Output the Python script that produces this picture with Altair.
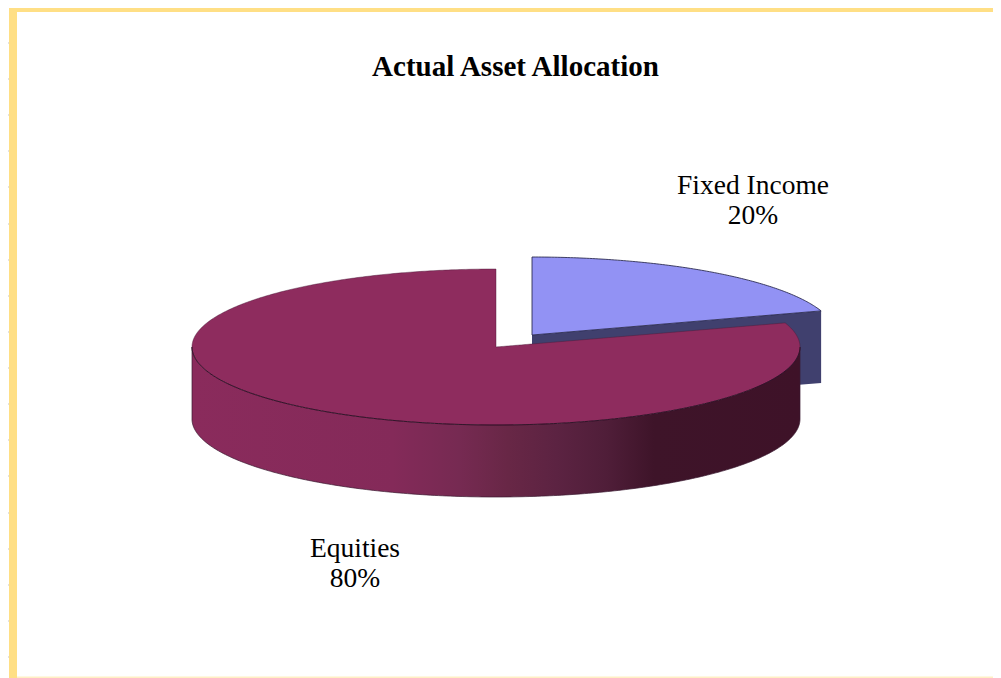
import numpy as np
import pandas as pd
import altair as alt

title_text = "Actual Asset Allocation"
categories = ["Equities", "Fixed Income"]
shares = [80, 20]
share_labels = ["80%", "20%"]
left_marks = [43, 79, 115, 151, 187, 224, 260, 296, 332, 368, 404, 440, 476, 513, 549, 585, 621, 657]

W, H = 985, 670
X = alt.X("x:Q", scale=alt.Scale(domain=[8, 8 + W], nice=False, zero=False), axis=None)
Y = alt.Y("y:Q", scale=alt.Scale(domain=[8 + H, 8], nice=False, zero=False), axis=None)
X2, Y2 = alt.X2("x2:Q"), alt.Y2("y2:Q")

RX, RY, DEPTH = 304.0, 78.0, 72.0
EQ_C = (496.0, 347.0)
FI_C = (532.0, 335.0)
cut = 2 * np.pi * shares[1] / sum(shares)      # clockwise angle from 12 o'clock


def pt(c, a):
    return c[0] + RX * np.sin(a), c[1] - RY * np.cos(a)


def area_df(xs, top, bot):
    return pd.DataFrame({"x": xs, "y": top, "y2": bot})


def line_df(xs, ys):
    return pd.DataFrame({"x": xs, "y": ys, "i": np.arange(len(xs))})


def area(df, fill):
    return alt.Chart(df).mark_area(color=fill).encode(x=X, y=Y, y2=Y2)


def line(df, color, width=1.0, opacity=1.0):
    return alt.Chart(df).mark_line(color=color, strokeWidth=width, opacity=opacity).encode(
        x=X, y=Y, order=alt.Order("i:Q"))


# Fixed income: cut wall and top face
ex, ey = pt(FI_C, cut)
wall_x = np.array([FI_C[0], ex])
wall_top = np.array([FI_C[1], ey])
fi_wall = area(area_df(wall_x, wall_top, wall_top + DEPTH), "#40406E")
a = np.linspace(0, cut, 120)
fx, fy = pt(FI_C, a)
fi_low = FI_C[1] + (fx - FI_C[0]) * (ey - FI_C[1]) / (ex - FI_C[0])
fi_top = area(area_df(fx, fy, fi_low), "#9292F4")
fi_out = line(line_df(np.r_[FI_C[0], fx, FI_C[0]], np.r_[FI_C[1], fy, FI_C[1]]), "#26264A", 1.0, 0.85)

# Equities: side wall with the shading from left to right
a = np.linspace(-np.pi / 2, -3 * np.pi / 2, 240)
wx, wy = pt(EQ_C, a)
shade = alt.LinearGradient(
    gradient="linear", x1=0, x2=1, y1=0, y2=0,
    stops=[
        alt.GradientStop(offset=0.0, color="#8A2B5C"),
        alt.GradientStop(offset=0.33, color="#842A59"),
        alt.GradientStop(offset=0.44, color="#762A52"),
        alt.GradientStop(offset=0.52, color="#682746"),
        alt.GradientStop(offset=0.60, color="#5C2342"),
        alt.GradientStop(offset=0.68, color="#501E39"),
        alt.GradientStop(offset=0.76, color="#3E1429"),
        alt.GradientStop(offset=1.0, color="#3E1228"),
    ],
)
eq_wall = area(area_df(wx[::-1], wy[::-1], wy[::-1] + DEPTH), shade)
eq_front = line(line_df(wx, wy), "#2A1024", 1.0, 0.9)
eq_base = line(line_df(np.r_[wx[0], wx, wx[-1]], np.r_[wy[0], wy + DEPTH, wy[-1]]), "#3A1A30", 1.0, 0.7)

# Equities: top face (everything except the fixed income wedge)
a_left = np.linspace(-np.pi / 2, 0, 160)
lx, ly = pt(EQ_C, a_left)
qx, qy = pt(EQ_C, cut)
mx = np.linspace(EQ_C[0] + 0.01, qx, 160)
my = EQ_C[1] + (mx - EQ_C[0]) * (qy - EQ_C[1]) / (qx - EQ_C[0])
a_gap = np.linspace(cut, np.pi / 2, 60)[1:]
rx_, ry_ = pt(EQ_C, a_gap)
xs = np.r_[lx, mx, rx_]
top = np.r_[ly, my, ry_]
a_bot = np.arcsin(np.clip((xs - EQ_C[0]) / RX, -1, 1))
bot = EQ_C[1] + RY * np.cos(a_bot)
eq_top = area(area_df(xs, top, bot), "#8E2C5E")
a = np.linspace(cut, 2 * np.pi, 300)
ox, oy = pt(EQ_C, a)
eq_out = line(line_df(np.r_[EQ_C[0], ox, EQ_C[0]], np.r_[EQ_C[1], oy, EQ_C[1]]), "#4A1A38", 0.8, 0.55)

# Frame of the sheet
frame_df = pd.DataFrame({"x": [9, 9], "x2": [17, 993], "y": [8, 8], "y2": [678, 12]})
frame = alt.Chart(frame_df).mark_rect(color="#FFDF85").encode(x=X, x2=X2, y=Y, y2=Y2)
floor_df = pd.DataFrame({"x": [17], "x2": [993], "y": [676.5], "y2": [678]})
floor = alt.Chart(floor_df).mark_rect(color="#FFF0C4").encode(x=X, x2=X2, y=Y, y2=Y2)
marks_df = pd.DataFrame({"x": [8] * len(left_marks), "x2": [9] * len(left_marks), "y": left_marks})
marks = alt.Chart(marks_df).mark_rule(color="#D8D8D8", strokeWidth=1.5).encode(x=X, x2=X2, y=Y)

# Texts
title_df = pd.DataFrame({"x": [515.5], "y": [67], "t": [title_text]})
title = alt.Chart(title_df).mark_text(
    font="Liberation Serif", fontWeight="bold", fontSize=29, color="#000000", baseline="middle", align="center"
).encode(x=X, y=Y, text="t:N")
label_df = pd.DataFrame({
    "x": [355, 355, 753, 753],
    "y": [549, 579, 186, 216],
    "t": [categories[0], share_labels[0], categories[1], share_labels[1]],
})
labels = alt.Chart(label_df).mark_text(
    font="Liberation Serif", fontSize=27.5, color="#000000", baseline="middle", align="center"
).encode(x=X, y=Y, text="t:N")

chart = alt.layer(
    frame, floor, marks,
    fi_wall, fi_top, fi_out,
    eq_wall, eq_base, eq_top, eq_out, eq_front,
    title, labels,
).properties(
    width=W, height=H, padding=0, background="#FFFFFF",
    autosize=alt.AutoSizeParams(type="none"),
).configure_view(stroke=None)

chart.save("out.html", embed_options={"renderer": "svg", "actions": False})
